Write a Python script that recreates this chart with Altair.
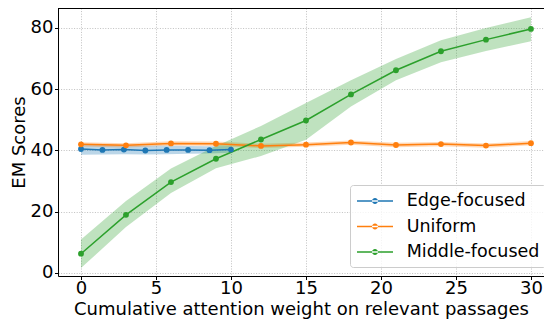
import altair as alt
import pandas as pd

series_names = ["Edge-focused", "Uniform", "Middle-focused"]
colors = ["#1f77b4", "#ff7f0e", "#2ca02c"]

edge_x = [0, 1.43, 2.86, 4.29, 5.71, 7.14, 8.57, 10]
edge_y = [40.5, 40.2, 40.3, 40.0, 40.2, 40.2, 40.1, 40.3]
edge_lo = [38.6, 38.7, 38.8, 38.7, 38.8, 38.9, 39.0, 39.3]
edge_hi = [42.0, 41.8, 41.8, 41.6, 41.6, 41.5, 41.4, 41.4]

uni_x = [0, 3, 6, 9, 12, 15, 18, 21, 24, 27, 30]
uni_y = [42.0, 41.7, 42.3, 42.2, 41.5, 41.9, 42.6, 41.8, 42.1, 41.6, 42.4]
uni_lo = [41.3, 41.0, 41.6, 41.5, 40.8, 41.2, 41.9, 41.1, 41.4, 40.9, 41.7]
uni_hi = [42.7, 42.4, 43.0, 42.9, 42.2, 42.6, 43.3, 42.5, 42.8, 42.3, 43.1]

mid_x = [0, 3, 6, 9, 12, 15, 18, 21, 24, 27, 30]
mid_y = [6.3, 19.0, 29.7, 37.3, 43.6, 49.8, 58.3, 66.2, 72.4, 76.2, 79.7]
mid_lo = [1.6, 15.0, 26.1, 34.2, 38.2, 43.5, 54.4, 62.9, 68.8, 72.5, 75.7]
mid_hi = [10.9, 23.5, 34.1, 41.5, 48.0, 55.5, 62.9, 69.9, 76.0, 80.0, 83.5]

x_ticks = [0, 5, 10, 15, 20, 25, 30]
y_ticks = [0, 20, 40, 60, 80]

rows = []
for name, col, xs_, ys_, los, his in [
    ("Edge-focused", colors[0], edge_x, edge_y, edge_lo, edge_hi),
    ("Uniform", colors[1], uni_x, uni_y, uni_lo, uni_hi),
    ("Middle-focused", colors[2], mid_x, mid_y, mid_lo, mid_hi),
]:
    for a, b, c, d in zip(xs_, ys_, los, his):
        rows.append({"series": name, "col": col, "x": a, "y": b, "lo": c, "hi": d})
df = pd.DataFrame(rows)

FONT = "DejaVu Sans"

xs = alt.Scale(domain=[-1.533, 30.87], nice=False, zero=False)
ys = alt.Scale(domain=[-0.98, 86.53], nice=False, zero=False)

x_enc = alt.X("x:Q", scale=xs, axis=alt.Axis(
    values=x_ticks, title="Cumulative attention weight on relevant passages"))
y_enc = alt.Y("y:Q", scale=ys, axis=alt.Axis(values=y_ticks, title="EM Scores"))

base = alt.Chart(df)

bands = base.mark_area(opacity=0.3).encode(
    x=x_enc,
    y=alt.Y("lo:Q", scale=ys),
    y2="hi:Q",
    fill=alt.Fill("col:N", scale=None),
    detail="series:N",
)

lines = base.mark_line(strokeWidth=1.5).encode(
    x=x_enc,
    y=y_enc,
    stroke=alt.Stroke("col:N", scale=None),
    detail="series:N",
)

sym_path = ("M-0.9,-0.075H2.7V0.075H-0.9Z "
            "M0.6,0A0.3,0.3 0 1,0 1.2,0A0.3,0.3 0 1,0 0.6,0Z")

points = base.mark_circle(size=34, opacity=1).encode(
    x=x_enc,
    y=y_enc,
    color=alt.Color("series:N", scale=alt.Scale(domain=series_names, range=colors),
                    legend=alt.Legend(
                        title=None, orient="none", legendX=292, legendY=177,
                        symbolType=sym_path, symbolSize=400, symbolStrokeWidth=0,
                        symbolOpacity=1,
                        labelFont=FONT, labelFontSize=17.5, labelColor="black",
                        labelOffset=30.7, padding=6, rowPadding=6.5,
                        strokeColor="#cccccc", fillColor="rgba(255,255,255,0.8)",
                        cornerRadius=3)),
)

top_spine = alt.Chart(pd.DataFrame({"v": [0]})).mark_rule(color="black", strokeWidth=1).encode(
    y=alt.value(0.5)
)

chart = alt.layer(bands, lines, points, top_spine).properties(
    width=486, height=268,
    autosize=alt.AutoSizeParams(type="none"),
    padding={"left": 50, "top": 0, "right": 0, "bottom": 43},
).configure_view(
    stroke=None,
).configure_axis(
    labelFont=FONT, labelFontSize=18, labelColor="black",
    titleFont=FONT, titleFontSize=18, titleFontWeight="normal", titleColor="black",
    tickColor="black", tickSize=3.5, tickWidth=1,
    domain=True, domainColor="black", domainWidth=1,
    grid=True, gridColor="#b0b0b0", gridWidth=0.8, gridDash=[1, 1.6], gridOpacity=1,
).configure_axisY(
    labelPadding=1.5, titlePadding=2,
).configure_axisX(
    labelPadding=0, titlePadding=3,
)

chart.save("out.html", embed_options={"renderer": "svg", "actions": False})
